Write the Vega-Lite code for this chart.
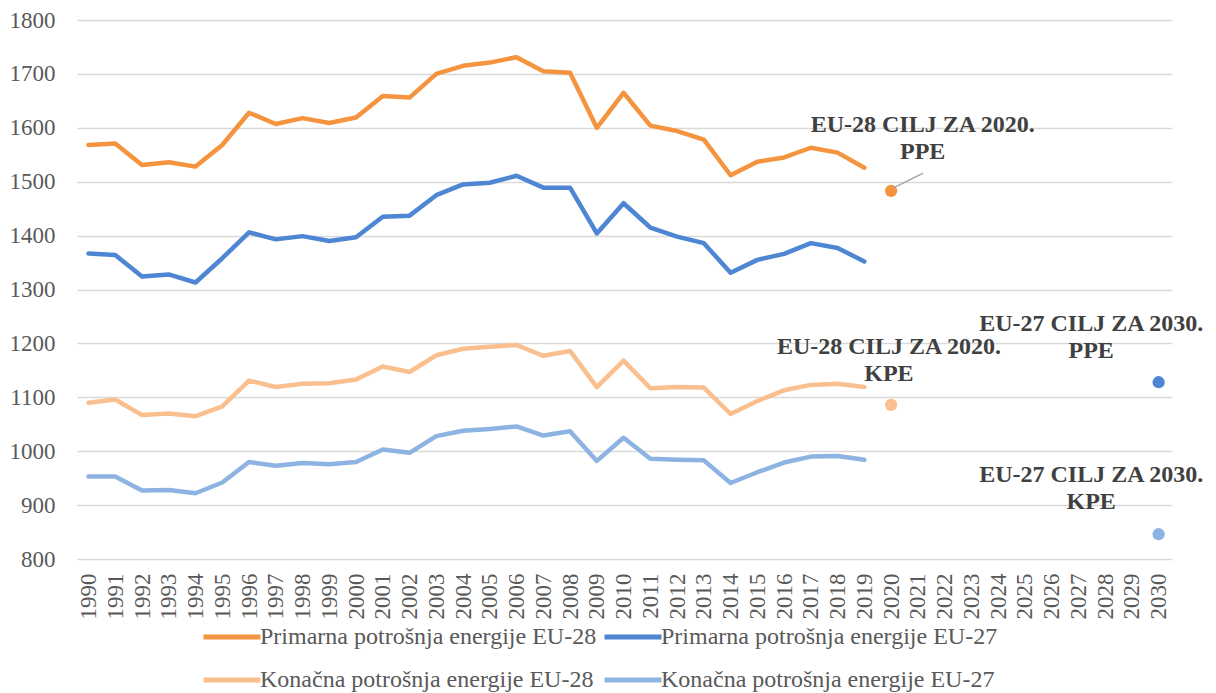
{
  "$schema": "https://vega.github.io/schema/vega-lite/v6.json",
  "width": 1095,
  "height": 539,
  "autosize": {"type": "none"},
  "padding": {"left": 77, "top": 20, "right": 44, "bottom": 134},
  "background": "white",
  "config": {"view": {"stroke": null}, "font": "Liberation Serif", "axis": {"labelOverlap": false}},
  "datasets": {
    "actual": [
      {"year": 1990, "Primarna potrošnja energije EU-28": 1568, "Primarna potrošnja energije EU-27": 1367, "Konačna potrošnja energije EU-28": 1090, "Konačna potrošnja energije EU-27": 953},
      {"year": 1991, "Primarna potrošnja energije EU-28": 1571, "Primarna potrošnja energije EU-27": 1364, "Konačna potrošnja energije EU-28": 1096, "Konačna potrošnja energije EU-27": 953},
      {"year": 1992, "Primarna potrošnja energije EU-28": 1531, "Primarna potrošnja energije EU-27": 1324, "Konačna potrošnja energije EU-28": 1067, "Konačna potrošnja energije EU-27": 927},
      {"year": 1993, "Primarna potrošnja energije EU-28": 1536, "Primarna potrošnja energije EU-27": 1328, "Konačna potrošnja energije EU-28": 1070, "Konačna potrošnja energije EU-27": 928},
      {"year": 1994, "Primarna potrošnja energije EU-28": 1528, "Primarna potrošnja energije EU-27": 1313, "Konačna potrošnja energije EU-28": 1065, "Konačna potrošnja energije EU-27": 922},
      {"year": 1995, "Primarna potrošnja energije EU-28": 1568, "Primarna potrošnja energije EU-27": 1358, "Konačna potrošnja energije EU-28": 1083, "Konačna potrošnja energije EU-27": 942},
      {"year": 1996, "Primarna potrošnja energije EU-28": 1628, "Primarna potrošnja energije EU-27": 1406, "Konačna potrošnja energije EU-28": 1131, "Konačna potrošnja energije EU-27": 980},
      {"year": 1997, "Primarna potrošnja energije EU-28": 1607, "Primarna potrošnja energije EU-27": 1393, "Konačna potrošnja energije EU-28": 1119, "Konačna potrošnja energije EU-27": 973},
      {"year": 1998, "Primarna potrošnja energije EU-28": 1618, "Primarna potrošnja energije EU-27": 1399, "Konačna potrošnja energije EU-28": 1125, "Konačna potrošnja energije EU-27": 978},
      {"year": 1999, "Primarna potrošnja energije EU-28": 1609, "Primarna potrošnja energije EU-27": 1390, "Konačna potrošnja energije EU-28": 1126, "Konačna potrošnja energije EU-27": 976},
      {"year": 2000, "Primarna potrošnja energije EU-28": 1619, "Primarna potrošnja energije EU-27": 1397, "Konačna potrošnja energije EU-28": 1133, "Konačna potrošnja energije EU-27": 980},
      {"year": 2001, "Primarna potrošnja energije EU-28": 1659, "Primarna potrošnja energije EU-27": 1435, "Konačna potrošnja energije EU-28": 1157, "Konačna potrošnja energije EU-27": 1003},
      {"year": 2002, "Primarna potrošnja energije EU-28": 1656, "Primarna potrošnja energije EU-27": 1437, "Konačna potrošnja energije EU-28": 1147, "Konačna potrošnja energije EU-27": 997},
      {"year": 2003, "Primarna potrošnja energije EU-28": 1700, "Primarna potrošnja energije EU-27": 1475, "Konačna potrošnja energije EU-28": 1178, "Konačna potrošnja energije EU-27": 1028},
      {"year": 2004, "Primarna potrošnja energije EU-28": 1715, "Primarna potrošnja energije EU-27": 1495, "Konačna potrošnja energije EU-28": 1190, "Konačna potrošnja energije EU-27": 1038},
      {"year": 2005, "Primarna potrošnja energije EU-28": 1721, "Primarna potrošnja energije EU-27": 1498, "Konačna potrošnja energije EU-28": 1194, "Konačna potrošnja energije EU-27": 1041},
      {"year": 2006, "Primarna potrošnja energije EU-28": 1731, "Primarna potrošnja energije EU-27": 1511, "Konačna potrošnja energije EU-28": 1197, "Konačna potrošnja energije EU-27": 1046},
      {"year": 2007, "Primarna potrošnja energije EU-28": 1705, "Primarna potrošnja energije EU-27": 1489, "Konačna potrošnja energije EU-28": 1177, "Konačna potrošnja energije EU-27": 1029},
      {"year": 2008, "Primarna potrošnja energije EU-28": 1702, "Primarna potrošnja energije EU-27": 1489, "Konačna potrošnja energije EU-28": 1186, "Konačna potrošnja energije EU-27": 1037},
      {"year": 2009, "Primarna potrošnja energije EU-28": 1600, "Primarna potrošnja energije EU-27": 1404, "Konačna potrošnja energije EU-28": 1119, "Konačna potrošnja energije EU-27": 982},
      {"year": 2010, "Primarna potrošnja energije EU-28": 1665, "Primarna potrošnja energije EU-27": 1460, "Konačna potrošnja energije EU-28": 1168, "Konačna potrošnja energije EU-27": 1025},
      {"year": 2011, "Primarna potrošnja energije EU-28": 1604, "Primarna potrošnja energije EU-27": 1415, "Konačna potrošnja energije EU-28": 1117, "Konačna potrošnja energije EU-27": 986},
      {"year": 2012, "Primarna potrošnja energije EU-28": 1594, "Primarna potrošnja energije EU-27": 1398, "Konačna potrošnja energije EU-28": 1119, "Konačna potrošnja energije EU-27": 984},
      {"year": 2013, "Primarna potrošnja energije EU-28": 1578, "Primarna potrošnja energije EU-27": 1386, "Konačna potrošnja energije EU-28": 1118, "Konačna potrošnja energije EU-27": 983},
      {"year": 2014, "Primarna potrošnja energije EU-28": 1512, "Primarna potrošnja energije EU-27": 1331, "Konačna potrošnja energije EU-28": 1069, "Konačna potrošnja energije EU-27": 941},
      {"year": 2015, "Primarna potrošnja energije EU-28": 1537, "Primarna potrošnja energije EU-27": 1355, "Konačna potrošnja energije EU-28": 1093, "Konačna potrošnja energije EU-27": 961},
      {"year": 2016, "Primarna potrošnja energije EU-28": 1545, "Primarna potrošnja energije EU-27": 1366, "Konačna potrošnja energije EU-28": 1113, "Konačna potrošnja energije EU-27": 979},
      {"year": 2017, "Primarna potrošnja energije EU-28": 1563, "Primarna potrošnja energije EU-27": 1386, "Konačna potrošnja energije EU-28": 1123, "Konačna potrošnja energije EU-27": 990},
      {"year": 2018, "Primarna potrošnja energije EU-28": 1554, "Primarna potrošnja energije EU-27": 1377, "Konačna potrošnja energije EU-28": 1125, "Konačna potrošnja energije EU-27": 991},
      {"year": 2019, "Primarna potrošnja energije EU-28": 1526, "Primarna potrošnja energije EU-27": 1352, "Konačna potrošnja energije EU-28": 1119, "Konačna potrošnja energije EU-27": 984}
    ],
    "targets": [
      {"year": 2020, "key": "Primarna potrošnja energije EU-28", "value": 1483},
      {"year": 2020, "key": "Konačna potrošnja energije EU-28", "value": 1086},
      {"year": 2030, "key": "Primarna potrošnja energije EU-27", "value": 1128},
      {"year": 2030, "key": "Konačna potrošnja energije EU-27", "value": 846}
    ],
    "notes": [
      {"ax": 2021.18, "ay": 1605, "label": "EU-28 CILJ ZA 2020.\nPPE"},
      {"ax": 2019.92, "ay": 1194, "label": "EU-28 CILJ ZA 2020.\nKPE"},
      {"ax": 2027.48, "ay": 1236, "label": "EU-27 CILJ ZA 2030.\nPPE"},
      {"ax": 2027.48, "ay": 956, "label": "EU-27 CILJ ZA 2030.\nKPE"}
    ],
    "leader": [
      {"lx": 2021.2, "ly": 1516, "lx2": 2020.07, "ly2": 1488}
    ]
  },
  "layer": [
    {
      "data": {"name": "actual"},
      "transform": [
        {"fold": ["Primarna potrošnja energije EU-28", "Primarna potrošnja energije EU-27", "Konačna potrošnja energije EU-28", "Konačna potrošnja energije EU-27"]}
      ],
      "mark": {"type": "line", "strokeWidth": 4.5, "strokeJoin": "round", "strokeCap": "round"},
      "encoding": {
        "x": {
          "field": "year", "type": "quantitative",
          "scale": {"domain": [1989.57, 2030.5], "nice": false, "zero": false},
          "axis": {
            "title": null, "tickCount": 100,
            "values": [1990,1991,1992,1993,1994,1995,1996,1997,1998,1999,2000,2001,2002,2003,2004,2005,2006,2007,2008,2009,2010,2011,2012,2013,2014,2015,2016,2017,2018,2019,2020,2021,2022,2023,2024,2025,2026,2027,2028,2029,2030],
            "format": "d", "labelAngle": -90, "labelFontSize": 23, "labelFont": "Liberation Serif", "labelColor": "#595959",
            "ticks": false, "domain": false, "grid": false, "labelPadding": 14, "labelOverlap": false, "labelFlush": false, "labelSeparation": 0
          }
        },
        "y": {
          "field": "value", "type": "quantitative",
          "scale": {"domain": [800, 1800], "nice": false, "zero": false},
          "axis": {
            "title": null, "format": "d",
            "values": [800, 900, 1000, 1100, 1200, 1300, 1400, 1500, 1600, 1700, 1800],
            "grid": true, "gridColor": "#D9D9D9", "gridWidth": 1.3, "ticks": false, "domain": false,
            "labelFontSize": 23, "labelFont": "Liberation Serif", "labelColor": "#595959", "labelPadding": 22
          }
        },
        "color": {
          "field": "key", "type": "nominal",
          "scale": {
            "domain": ["Primarna potrošnja energije EU-28", "Primarna potrošnja energije EU-27", "Konačna potrošnja energije EU-28", "Konačna potrošnja energije EU-27"],
            "range": ["#F5943F", "#4E86D3", "#F9BF8E", "#8DB3E2"]
          },
          "legend": {
            "title": null, "orient": "none", "legendX": 124, "legendY": 586, "direction": "horizontal",
            "columns": 2, "columnPadding": -3, "rowPadding": -15,
            "symbolType": "stroke", "symbolSize": 3249, "symbolStrokeWidth": 5,
            "labelFontSize": 24, "labelFont": "Liberation Serif", "labelColor": "#595959",
            "labelOffset": -3, "labelLimit": 0
          }
        }
      }
    },
    {
      "data": {"name": "targets"},
      "mark": {"type": "point", "filled": true, "size": 150, "opacity": 1},
      "encoding": {
        "x": {"field": "year", "type": "quantitative"},
        "y": {"field": "value", "type": "quantitative"},
        "color": {"field": "key", "type": "nominal", "legend": null}
      }
    },
    {
      "data": {"name": "leader"},
      "mark": {"type": "rule", "color": "#A6A6A6", "strokeWidth": 1.5},
      "encoding": {
        "x": {"field": "lx", "type": "quantitative"},
        "y": {"field": "ly", "type": "quantitative"},
        "x2": {"field": "lx2"},
        "y2": {"field": "ly2"}
      }
    },
    {
      "data": {"name": "notes"},
      "mark": {"type": "text", "font": "Liberation Serif", "fontWeight": "bold", "fontSize": 24, "color": "#404040", "align": "center", "baseline": "middle", "lineBreak": "\n", "lineHeight": 27},
      "encoding": {
        "x": {"field": "ax", "type": "quantitative"},
        "y": {"field": "ay", "type": "quantitative"},
        "text": {"field": "label"}
      }
    }
  ],
  "resolve": {"legend": {"color": "independent"}}
}
